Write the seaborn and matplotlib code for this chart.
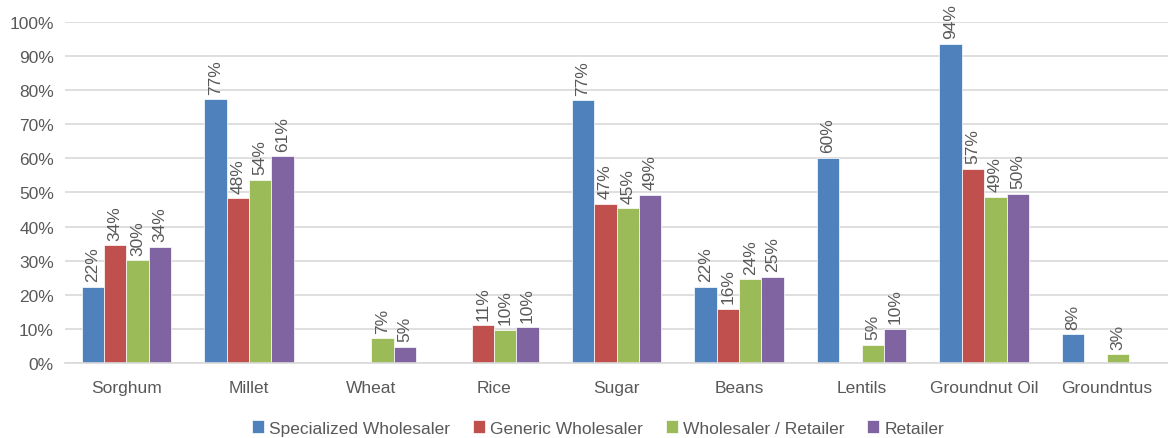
import numpy as np
import pandas as pd
import matplotlib.pyplot as plt
import seaborn as sns
from matplotlib.ticker import PercentFormatter

categories = ["Sorghum", "Millet", "Wheat", "Rice", "Sugar", "Beans",
              "Lentils", "Groundnut Oil", "Groundntus"]
series = ["Specialized Wholesaler", "Generic Wholesaler",
          "Wholesaler / Retailer", "Retailer"]
specialized = [22.3, 77.3, np.nan, np.nan, 77.0, 22.3, 60.1, 93.6, 8.4]
generic = [34.5, 48.3, np.nan, 11.0, 46.7, 15.9, np.nan, 56.9, np.nan]
wholesaler_retailer = [30.1, 53.7, 7.2, 9.7, 45.4, 24.5, 5.3, 48.7, 2.6]
retailer = [34.0, 60.6, 4.7, 10.4, 49.3, 25.2, 10.0, 49.6, np.nan]
colors = ["#4F81BD", "#C0504D", "#9BBB59", "#8064A2"]

df = pd.DataFrame({
    "category": categories * 4,
    "series": np.repeat(series, len(categories)),
    "value": specialized + generic + wholesaler_retailer + retailer,
})

sns.set_style("white")
plt.rcParams["font.family"] = ["Liberation Sans Narrow", "Liberation Sans", "DejaVu Sans"]
text_color = "#595959"

fig = plt.figure(figsize=(11.68, 4.39), dpi=100)
ax = fig.add_axes([0.0557, 0.171, 0.9443, 0.7766])

sns.barplot(data=df, x="category", y="value", hue="series", order=categories,
            hue_order=series, palette=colors, saturation=1, width=0.73,
            edgecolor="white", linewidth=0.5, ax=ax, legend=True)

for c in ax.containers:
    ax.bar_label(c, fmt=lambda v: f"{v:.0f}%", rotation=90, padding=4,
                 fontsize=12.5, color=text_color)

ax.set_ylim(0, 100)
ax.set_xlim(-0.5, len(categories) - 0.5)
ax.set_yticks(range(0, 101, 10))
ax.yaxis.set_major_formatter(PercentFormatter(100, decimals=0))
ax.grid(axis="y", color="#D9D9D9", linewidth=1.2)
ax.set_axisbelow(True)
for s in ["top", "left", "right"]:
    ax.spines[s].set_visible(False)
ax.spines["bottom"].set_color("#D9D9D9")
ax.spines["bottom"].set_linewidth(1.2)
ax.tick_params(axis="both", length=0, labelsize=12.5, colors=text_color)
ax.tick_params(axis="x", pad=12)
ax.tick_params(axis="y", pad=8)
ax.set_xlabel("")
ax.set_ylabel("")

handles, labels = ax.get_legend_handles_labels()
ax.get_legend().remove()
fig.legend(handles, labels, loc="lower center", bbox_to_anchor=(0.512, -0.03),
           ncol=4, frameon=False, fontsize=12.5, handlelength=0.7,
           handleheight=0.7, handletextpad=0.3, columnspacing=1.3,
           labelcolor=text_color)

fig.savefig("out.png", dpi=100)
